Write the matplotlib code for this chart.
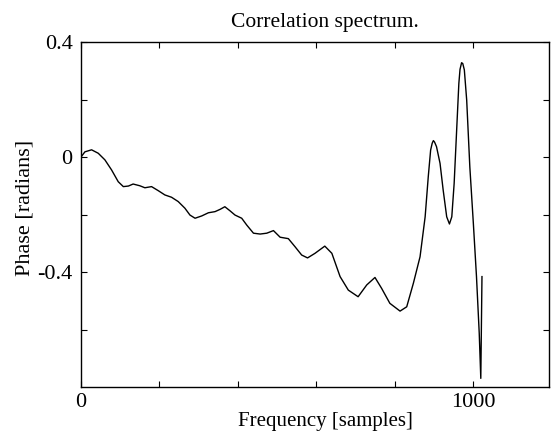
import matplotlib
matplotlib.use("Agg")
import matplotlib.pyplot as plt

# ---- data ----
frequency = [0, 10, 27, 44, 61, 78, 95, 108, 121, 133, 150, 163, 180, 197, 214,
             231, 248, 265, 278, 291, 308, 325, 342, 355, 367, 380, 393, 410,
             423, 440, 457, 474, 491, 508, 529, 546, 563, 578, 597, 622, 640,
             661, 682, 707, 729, 750, 767, 788, 814, 831, 848, 865, 878, 886,
             892, 896, 899, 902, 907, 916, 924, 933, 940, 946, 952, 958, 964,
             967, 971, 974, 978, 984, 992, 1001, 1009, 1016, 1020, 1023]
phase = [0.0, 0.018, 0.025, 0.013, -0.010, -0.045, -0.086, -0.103, -0.101,
         -0.094, -0.100, -0.107, -0.103, -0.117, -0.132, -0.140, -0.155,
         -0.178, -0.202, -0.213, -0.205, -0.194, -0.190, -0.182, -0.173,
         -0.187, -0.202, -0.213, -0.237, -0.265, -0.268, -0.265, -0.256,
         -0.279, -0.284, -0.312, -0.341, -0.351, -0.335, -0.310, -0.335,
         -0.416, -0.463, -0.486, -0.445, -0.419, -0.457, -0.509, -0.536,
         -0.521, -0.439, -0.347, -0.208, -0.068, 0.024, 0.048, 0.057, 0.052,
         0.036, -0.022, -0.115, -0.208, -0.233, -0.208, -0.092, 0.082, 0.256,
         0.305, 0.328, 0.325, 0.303, 0.198, -0.034, -0.231, -0.416, -0.613,
         -0.770, -0.416]

x_ticks = [0, 200, 400, 600, 800, 1000]
x_tick_labels = ["0", "", "", "", "", "1000"]
y_ticks = [-0.6, -0.4, -0.2, 0.0, 0.2, 0.4]
y_tick_labels = ["", "-0.4", "", "0", "", "0.4"]

title = "Correlation spectrum."
x_label = "Frequency [samples]"
y_label = "Phase [radians]"

# ---- figure ----
W, H = 551, 432
fig = plt.figure(figsize=(W / 100, H / 100), dpi=100)
serif = ["Liberation Serif", "DejaVu Serif"]

left, right, top, bottom = 81, 549, 42, 387
ax = fig.add_axes([left / W, 1 - bottom / H, (right - left) / W, (bottom - top) / H])

ax.plot(frequency, phase, color="black", linewidth=1.0)

ax.set_xlim(0, 1194)
ax.set_ylim(-0.8, 0.4)

ax.set_xticks(x_ticks)
ax.set_xticklabels(x_tick_labels, family=serif, fontsize=16)
ax.set_yticks(y_ticks)
ax.set_yticklabels(y_tick_labels, family=serif, fontsize=16)

ax.tick_params(direction="in", length=4, width=0.8, top=True, right=True,
               color="black")
ax.tick_params(axis="x", pad=4)
ax.tick_params(axis="y", pad=6)
for s in ax.spines.values():
    s.set_linewidth(1.0)
    s.set_color("black")

fig.text(325 / W, 1 - 27 / H, title, ha="center", va="baseline",
         family=serif, fontsize=15.5)
fig.text(325 / W, 1 - 426 / H, x_label, ha="center", va="baseline",
         family=serif, fontsize=15)
fig.text(25 / W, 1 - 207.5 / H, y_label, ha="center", va="center",
         rotation=90, family=serif, fontsize=16)

fig.savefig("out.png", dpi=100)
